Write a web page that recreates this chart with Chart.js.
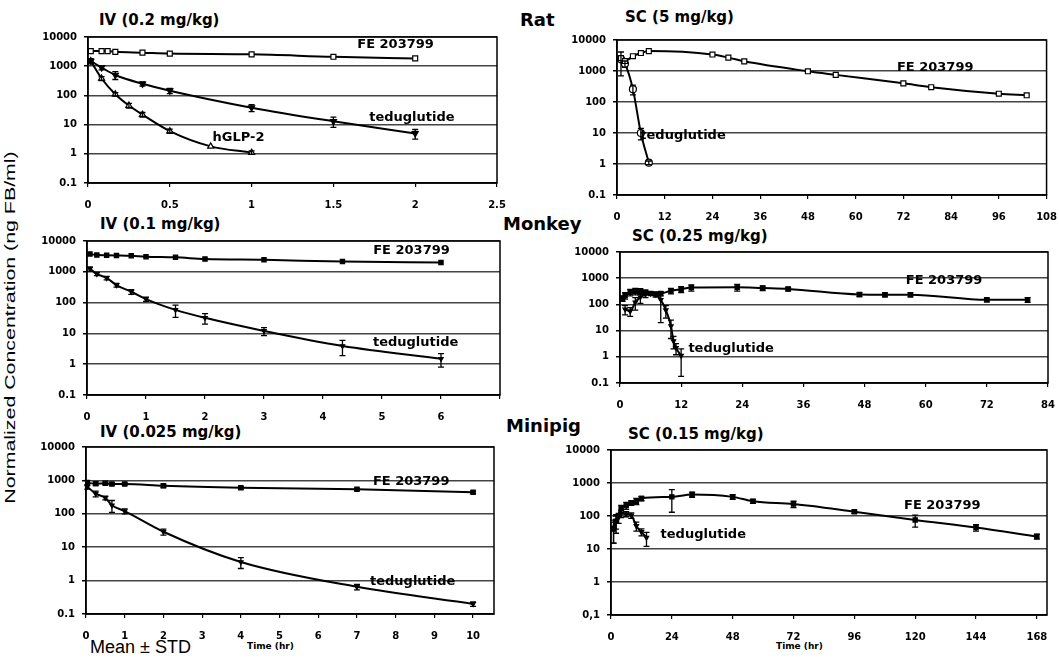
<!DOCTYPE html>
<html>
<head>
<meta charset="utf-8">
<script src="https://cdn.jsdelivr.net/npm/chart.js@4.4.0/dist/chart.umd.min.js"></script>
<style>
  body { margin: 0; width: 1059px; height: 658px; background: #fff; position: relative; overflow: hidden; }
  canvas { position: absolute; }
  .t { position: absolute; white-space: nowrap; color: #000; line-height: 1; font-family: "DejaVu Sans", sans-serif; font-weight: bold; }
</style>
</head>
<body>
<div class="t" style="left:99px;top:13px;font-size:15px">IV (0.2 mg/kg)</div>
<div class="t" style="left:625px;top:10px;font-size:15px">SC (5 mg/kg)</div>
<div class="t" style="left:100px;top:217px;font-size:15px">IV (0.1 mg/kg)</div>
<div class="t" style="left:632px;top:229px;font-size:15px">SC (0.25 mg/kg)</div>
<div class="t" style="left:100px;top:425px;font-size:15px">IV (0.025 mg/kg)</div>
<div class="t" style="left:628px;top:427px;font-size:15px">SC (0.15 mg/kg)</div>
<div class="t" style="left:520px;top:11px;font-size:18px">Rat</div>
<div class="t" style="left:503px;top:215px;font-size:18px">Monkey</div>
<div class="t" style="left:506px;top:417px;font-size:18px">Minipig</div>
<div class="t" style="left:247px;top:642px;font-size:9px">Time (hr)</div>
<div class="t" style="left:776px;top:642px;font-size:9px">Time (hr)</div>
<div class="t" style="left:90px;top:638px;font-size:18px;font-weight:normal;font-family:'Liberation Sans',sans-serif">Mean ± STD</div>
<div id="ylab" class="t" style="font-size:15px;font-weight:normal;font-family:'Liberation Sans',sans-serif">Normalized Concentration (ng FB/ml)</div>

<script>
// ---- Rat, IV 0.2 mg/kg ----
const ratIvFeTime = [0.017, 0.083, 0.12, 0.167, 0.333, 0.5, 1, 1.5, 2];
const ratIvFe = [3300, 3300, 3300, 3100, 2900, 2700, 2550, 2100, 1850];
const ratIvTedTime = [0.017, 0.083, 0.167, 0.333, 0.5, 1, 1.5, 2];
const ratIvTed = [1500, 900, 500, 250, 145, 38, 13, 5];
const ratIvTedSd = [300, 150, 150, 40, 30, 10, 5, 1.8];
const ratIvGlpTime = [0.017, 0.083, 0.167, 0.25, 0.333, 0.5, 0.75, 1];
const ratIvGlp = [1500, 380, 110, 45, 22, 6, 1.8, 1.1];
const ratIvGlpSd = [null, 60, 15, 8, 4, 1, null, 0.15];

// ---- Rat, SC 5 mg/kg ----
const ratScFeTime = [1, 2, 4, 6, 8, 24, 28, 32, 48, 55, 72, 79, 96, 103];
const ratScFe = [2600, 2100, 3000, 3800, 4400, 3400, 2700, 2050, 980, 750, 400, 300, 185, 165];
const ratScTedTime = [1, 2, 4, 6, 8];
const ratScTed = [2400, 1700, 260, 10, 1.1];
const ratScTedSd = [1700, 400, 90, 4, 0.15];

// ---- Monkey, IV 0.1 mg/kg ----
const monIvTime = [0.05, 0.167, 0.333, 0.5, 0.75, 1, 1.5, 2, 3, 4.33, 6];
const monIvFe = [3800, 3500, 3450, 3400, 3300, 3100, 2950, 2600, 2450, 2150, 2000];
const monIvTed = [1250, 850, 630, 370, 225, 130, 58, 32, 12, 3.9, 1.5];
const monIvTedSd = [200, 100, 80, 50, 40, 20, 25, 12, 3.5, 2, 0.7];

// ---- Monkey, SC 0.25 mg/kg ----
const monScFeTime = [0.5, 1, 2, 3, 4, 5, 6, 7, 8, 10, 12, 14, 23, 28, 33, 47, 52, 57, 72, 80];
const monScFe = [170, 220, 290, 320, 320, 290, 260, 250, 260, 330, 380, 440, 450, 420, 390, 240, 235, 235, 150, 150];
const monScFeSd = [40, 60, 80, 90, 80, 60, null, null, 50, 80, 100, 120, 130, 80, 60, 40, 40, 40, 25, 30];
const monScTedTime = [1, 2, 3, 4, 5, 6, 7, 8, 9, 10, 10.5, 11, 12];
const monScTed = [65, 55, 120, 190, 240, 260, 240, 150, 60, 15, 4, 2.2, 1.1];
const monScTedSd = [25, 20, 60, 80, 60, 40, 50, 130, 30, 10, 2, 1, 0.92];

// ---- Minipig, IV 0.025 mg/kg ----
const pigIvTime = [0.033, 0.25, 0.5, 0.67, 1, 2, 4, 7, 10];
const pigIvFe = [850, 800, 820, 780, 780, 690, 600, 540, 440];
const pigIvFeSd = [150, 100, 80, 60, 60, 80, 50, 40, 40];
const pigIvTed = [650, 400, 300, 180, 120, 29, 3.6, 0.65, 0.2];
const pigIvTedSd = [100, 80, 40, 70, 20, 6, 1.3, 0.12, 0.03];

// ---- Minipig, SC 0.15 mg/kg ----
const pigScFeTime = [1, 2, 4, 6, 8, 10, 12, 24, 32, 48, 56, 72, 96, 120, 144, 168];
const pigScFe = [40, 70, 170, 210, 250, 280, 340, 380, 450, 380, 280, 230, 135, 76, 45, 24];
const pigScFeSd = [25, 40, 40, 50, 40, 60, 50, 250, 80, 60, 40, 50, 15, 30, 10, 4];
const pigScTedTime = [1, 2, 3, 4, 6, 8, 10, 12, 14];
const pigScTed = [45, 70, 90, 120, 115, 105, 50, 33, 22];
const pigScTedSd = [30, 30, 30, 30, 20, 20, 15, 8, 10];

const logTicks = [0.1, 1, 10, 100, 1000, 10000];
const tickFont = { family: 'DejaVu Sans', size: 10, weight: 'bold' };

// box around the plot area
const frame = {
  id: 'frame',
  afterDatasetsDraw(chart) {
    const { ctx, chartArea: a } = chart;
    ctx.save();
    ctx.strokeStyle = '#000';
    ctx.lineWidth = 1.5;
    ctx.strokeRect(a.left, a.top, a.right - a.left, a.bottom - a.top);
    ctx.restore();
  }
};

// mean +/- sd bars
const errorBars = {
  id: 'errorBars',
  afterDatasetsDraw(chart) {
    const { ctx, scales: { x, y } } = chart;
    ctx.save();
    ctx.strokeStyle = '#000';
    ctx.lineWidth = 1.3;
    chart.data.datasets.forEach(ds => {
      if (!ds.sd) return;
      ds.data.forEach((p, i) => {
        const sd = ds.sd[i];
        if (sd == null) return;
        const px = x.getPixelForValue(p.x);
        const hi = y.getPixelForValue(p.y + sd);
        const lo = y.getPixelForValue(Math.max(p.y - sd, 0.1));
        ctx.beginPath();
        ctx.moveTo(px, hi); ctx.lineTo(px, lo);
        ctx.moveTo(px - 3, hi); ctx.lineTo(px + 3, hi);
        ctx.moveTo(px - 3, lo); ctx.lineTo(px + 3, lo);
        ctx.stroke();
      });
    });
    ctx.restore();
  }
};

// series names written inside the plot
const tags = {
  id: 'tags',
  afterDatasetsDraw(chart, args, opts) {
    const { ctx, scales: { x, y } } = chart;
    ctx.save();
    ctx.fillStyle = '#000';
    ctx.font = 'bold 13px "DejaVu Sans"';
    ctx.textAlign = 'center';
    ctx.textBaseline = 'middle';
    (opts.items || []).forEach(it => {
      ctx.fillText(it.text, x.getPixelForValue(it.x), y.getPixelForValue(it.y));
    });
    ctx.restore();
  }
};

function series(time, values, sd, style) {
  return {
    data: time.map((t, i) => ({ x: t, y: values[i] })),
    sd: sd,
    borderColor: '#000',
    borderWidth: 2,
    cubicInterpolationMode: 'monotone',
    pointStyle: style.marker,
    pointRotation: style.rot || 0,
    pointRadius: style.r || 3,
    pointBackgroundColor: style.fill || '#000',
    pointBorderColor: '#000',
    pointBorderWidth: 1.2
  };
}

function panel(box, xMax, xTicks, datasets, items, zeroLabel) {
  const padL = 60, padT = 10, padR = 22, padB = 32;
  const cv = document.createElement('canvas');
  cv.width = box.r - box.l + padL + padR;
  cv.height = box.b - box.t + padT + padB;
  cv.style.left = (box.l - padL) + 'px';
  cv.style.top = (box.t - padT) + 'px';
  document.body.appendChild(cv);

  new Chart(cv, {
    type: 'line',
    data: { datasets },
    options: {
      responsive: false,
      animation: false,
      layout: { padding: { left: 0, top: padT, right: padR, bottom: 0 } },
      plugins: { legend: { display: false }, tooltip: { enabled: false }, tags: { items } },
      scales: {
        x: {
          type: 'linear', min: 0, max: xMax,
          afterBuildTicks: s => { s.ticks = xTicks.map(v => ({ value: v })); },
          afterFit: s => { s.height = padB; },
          ticks: { font: tickFont, color: '#000', padding: 12, maxRotation: 0, autoSkip: false,
                   callback: v => xTicks.labels ? xTicks.labels[xTicks.indexOf(v)] : String(v) },
          grid: { drawOnChartArea: false, tickLength: 4, tickColor: '#000', lineWidth: 1.2 },
          border: { color: '#000', width: 1.5 }
        },
        y: {
          type: 'logarithmic', min: 0.1, max: 10000,
          afterBuildTicks: s => { s.ticks = logTicks.map(v => ({ value: v })); },
          afterFit: s => { s.width = padL; },
          ticks: { font: tickFont, color: '#000', padding: 7,
                   callback: v => (v === 0.1 && zeroLabel) ? zeroLabel : String(v) },
          grid: { color: '#444', lineWidth: 1.5, tickLength: 4, tickColor: '#000' },
          border: { color: '#000', width: 1.5 }
        }
      }
    },
    plugins: [frame, errorBars, tags]
  });
}

const openSq = { marker: 'rect', fill: '#fff', r: 3.5 };
const fillSq = { marker: 'rect', fill: '#000' };
const downTri = { marker: 'triangle', rot: 180, fill: '#000', r: 3.5 };
const upTri = { marker: 'triangle', fill: '#fff', r: 3.5 };
const openCirc = { marker: 'circle', fill: '#fff', r: 3.5 };
const smallTri = { marker: 'triangle', rot: 180, fill: '#000', r: 2.5 };

const monIvX = [0, 1, 2, 3, 4, 5, 6, 7];
monIvX.labels = ['0', '1', '2', '3', '4', '5', '6', ''];

panel({ l: 88, t: 34, r: 497, b: 183 }, 2.5, [0, 0.5, 1, 1.5, 2, 2.5], [
  series(ratIvFeTime, ratIvFe, null, openSq),
  series(ratIvTedTime, ratIvTed, ratIvTedSd, downTri),
  series(ratIvGlpTime, ratIvGlp, ratIvGlpSd, upTri)
], [
  { text: 'FE 203799', x: 1.88, y: 5400 },
  { text: 'teduglutide', x: 1.98, y: 18 },
  { text: 'hGLP-2', x: 0.92, y: 3.5 }
]);

panel({ l: 617, t: 37, r: 1047, b: 195 }, 108, [0, 12, 24, 36, 48, 60, 72, 84, 96, 108], [
  series(ratScFeTime, ratScFe, null, openSq),
  series(ratScTedTime, ratScTed, ratScTedSd, openCirc)
], [
  { text: 'FE 203799', x: 80, y: 1260 },
  { text: 'teduglutide', x: 16.6, y: 8.5 }
]);

panel({ l: 87, t: 238, r: 500, b: 395 }, 7, monIvX, [
  series(monIvTime, monIvFe, null, fillSq),
  series(monIvTime, monIvTed, monIvTedSd, smallTri)
], [
  { text: 'FE 203799', x: 5.5, y: 4800 },
  { text: 'teduglutide', x: 5.57, y: 5.2 }
]);

panel({ l: 620, t: 249, r: 1048, b: 383 }, 84, [0, 12, 24, 36, 48, 60, 72, 84], [
  series(monScFeTime, monScFe, monScFeSd, fillSq),
  series(monScTedTime, monScTed, monScTedSd, smallTri)
], [
  { text: 'FE 203799', x: 63.6, y: 810 },
  { text: 'teduglutide', x: 21.8, y: 2.0 }
]);

panel({ l: 86, t: 444, r: 494, b: 614 }, 10.54, [0, 1, 2, 3, 4, 5, 6, 7, 8, 9, 10], [
  series(pigIvTime, pigIvFe, pigIvFeSd, fillSq),
  series(pigIvTime, pigIvTed, pigIvTedSd, smallTri)
], [
  { text: 'FE 203799', x: 8.4, y: 940 },
  { text: 'teduglutide', x: 8.44, y: 0.95 }
]);

panel({ l: 611, t: 447, r: 1047, b: 615 }, 172, [0, 24, 48, 72, 96, 120, 144, 168], [
  series(pigScFeTime, pigScFe, pigScFeSd, fillSq),
  series(pigScTedTime, pigScTed, pigScTedSd, smallTri)
], [
  { text: 'FE 203799', x: 130.7, y: 213 },
  { text: 'teduglutide', x: 36.4, y: 27 }
], '0,1');

// rotated axis title, stretched to the length seen in the figure
const ylab = document.getElementById('ylab');
const k = 353 / ylab.offsetWidth;
ylab.style.left = (10 - ylab.offsetWidth / 2) + 'px';
ylab.style.top = (327 - ylab.offsetHeight / 2) + 'px';
ylab.style.transform = 'rotate(-90deg) scaleX(' + k + ')';
</script>
</body>
</html>
